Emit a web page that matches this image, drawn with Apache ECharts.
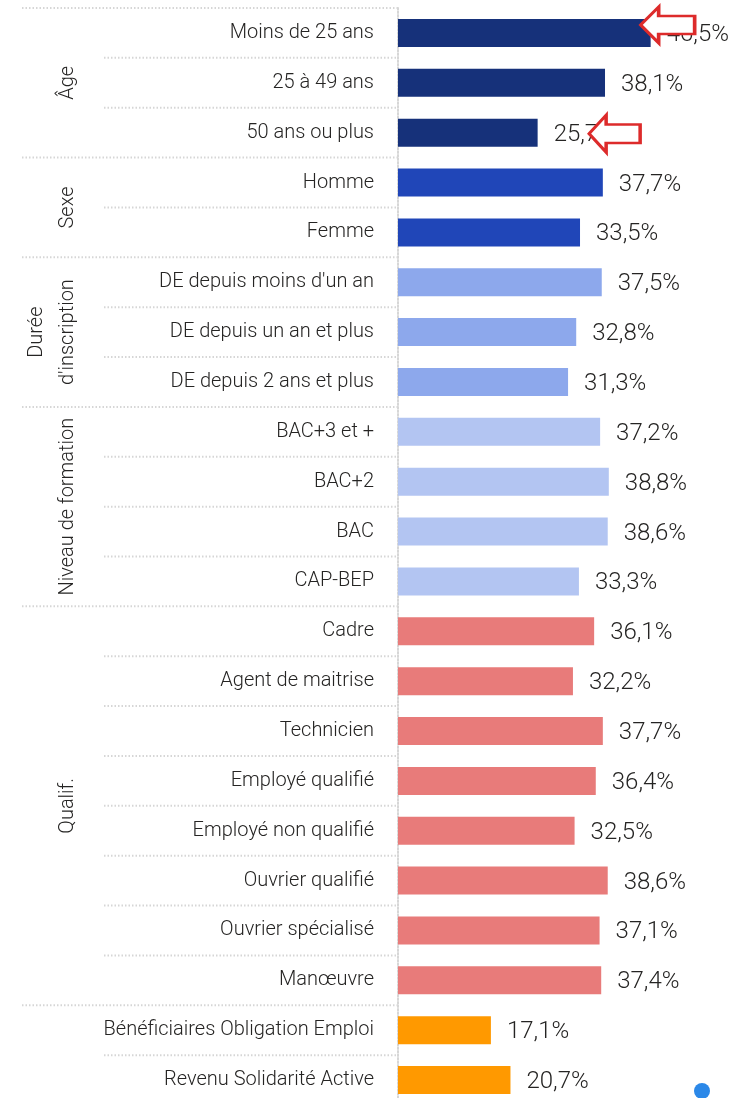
<!DOCTYPE html>
<html>
<head>
<meta charset="utf-8">
<script src="https://cdn.jsdelivr.net/npm/echarts@6/dist/echarts.min.js"></script>
<style>
  html, body { margin: 0; padding: 0; background: #fff; overflow: hidden; }
  #chart { width: 746px; height: 1112px; }
</style>
</head>
<body>
<div id="chart"></div>
<script>
var categories = [
  'Moins de 25 ans', '25 à 49 ans', '50 ans ou plus',
  'Homme', 'Femme',
  "DE depuis moins d'un an", 'DE depuis un an et plus', 'DE depuis 2 ans et plus',
  'BAC+3 et +', 'BAC+2', 'BAC', 'CAP-BEP',
  'Cadre', 'Agent de maitrise', 'Technicien', 'Employé qualifié',
  'Employé non qualifié', 'Ouvrier qualifié', 'Ouvrier spécialisé', 'Manœuvre',
  'Bénéficiaires Obligation Emploi', 'Revenu Solidarité Active'
];
var values = [46.5, 38.1, 25.7, 37.7, 33.5, 37.5, 32.8, 31.3, 37.2, 38.8, 38.6, 33.3,
  36.1, 32.2, 37.7, 36.4, 32.5, 38.6, 37.1, 37.4, 17.1, 20.7];
var groupNames = ['Âge', 'Sexe', "Durée\nd'inscription", 'Niveau de formation', 'Qualif.', ''];
var groupSizes = [3, 2, 3, 4, 8, 2];
var groupColors = ['#16317A', '#2046B8', '#8DA8EC', '#B3C5F2', '#E87B7A', '#FF9900'];
// fleches rouges sur les libellés
var arrowRows = [0, 2];

var FONT = 'Roboto, "Open Sans", sans-serif';
var TXT = '#252423';

var barData = [];
var groupData = [];
var idx = 0;
groupSizes.forEach(function (n, g) {
  groupData.push([0, idx, idx + n - 1, g]);
  for (var k = 0; k < n; k++) {
    barData.push({ value: values[idx + k], itemStyle: { color: groupColors[g] } });
  }
  idx += n;
});

var arrowPath = 'path://M0,18 L18,0 L18,9 L54,9 L54,27 L18,27 L18,36 Z';
var arrowOffsets = [[17, -8], [77, 1]];
var arrowSizes = [[54, 36], [51, 37]];

var myChart = echarts.init(document.getElementById('chart'));
var option = {
  animation: false,
  grid: { left: 398, top: 8, width: 326, height: 1097, containLabel: false },
  xAxis: {
    type: 'value', min: 0, max: 60,
    show: false
  },
  yAxis: {
    type: 'category',
    inverse: true,
    data: categories,
    axisLine: { show: true, lineStyle: { color: '#d6d6d6', width: 2, type: [1.5, 2] } },
    axisTick: { show: false },
    splitLine: { show: false },
    axisLabel: {
      margin: 24,
      fontSize: 20,
      fontFamily: FONT,
      fontWeight: 300,
      color: TXT
    }
  },
  series: [
    {
      type: 'bar',
      barWidth: 28,
      data: barData,
      label: {
        show: true,
        position: 'right',
        distance: 16,
        fontSize: 24,
        fontFamily: FONT,
        fontWeight: 300,
        color: TXT,
        offset: [0, 2],
        formatter: function (p) {
          return p.value.toFixed(1).replace('.', ',') + '%';
        }
      },
      markPoint: {
        symbol: arrowPath,
        silent: true,
        label: { show: false },
        itemStyle: { color: '#fff', borderColor: '#DD2B2B', borderWidth: 3 },
        data: arrowRows.map(function (r, i) {
          return {
            coord: [values[r], r],
            symbolSize: arrowSizes[i],
            symbolOffset: arrowOffsets[i]
          };
        })
      }
    },
    {
      // séparateurs pointillés + libellés de groupe
      type: 'custom',
      clip: false,
      silent: true,
      encode: { x: 0, y: 1 },
      data: groupData,
      renderItem: function (params, api) {
        var start = api.value(1), end = api.value(2), g = api.value(3);
        var band = api.size([0, 1])[1];
        var p0 = api.coord([0, start]);
        var x0 = p0[0];
        var top = p0[1] - band / 2;
        var bottom = api.coord([0, end])[1] + band / 2;
        var lineStyle = { stroke: '#d6d6d6', lineWidth: 2, lineDash: [1.5, 2] };
        var children = [{
          type: 'line',
          shape: { x1: 22, y1: top, x2: x0, y2: top },
          style: lineStyle
        }];
        for (var k = start + 1; k <= end; k++) {
          var y = api.coord([0, k])[1] - band / 2;
          children.push({
            type: 'line',
            shape: { x1: 104, y1: y, x2: x0, y2: y },
            style: lineStyle
          });
        }
        if (groupNames[g]) {
          children.push({
            type: 'text',
            x: 83,
            y: (top + bottom) / 2,
            rotation: Math.PI / 2,
            style: {
              text: groupNames[g],
              fontSize: 20,
              fontFamily: FONT,
              fontWeight: 300,
              lineHeight: 31,
              fill: TXT,
              align: 'center',
              verticalAlign: 'bottom'
            }
          });
        }
        return { type: 'group', children: children };
      }
    }
  ],
  graphic: [
    { type: 'circle', shape: { cx: 702, cy: 1091, r: 8 }, style: { fill: '#2B88E8' } }
  ]
};
myChart.setOption(option);
</script>
</body>
</html>
